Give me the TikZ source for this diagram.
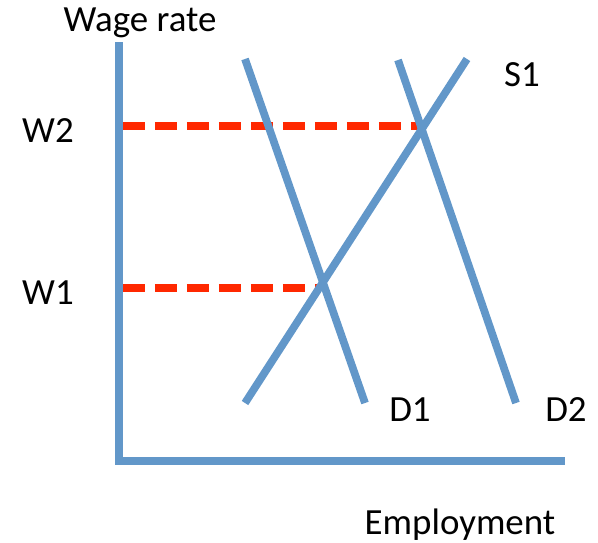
\documentclass[tikz,border=0pt]{standalone}
\usepackage{fontspec}
\setmainfont{Carlito}
\usepackage{tikz}
\usetikzlibrary{positioning}

\definecolor{curveblue}{RGB}{98,151,201}
\definecolor{levelred}{RGB}{255,40,0}

\begin{document}
\begin{tikzpicture}[
    x=0.02cm, y=-0.02cm,
    every node/.style={font=\fontsize{21}{24}\selectfont, inner sep=0pt},
    axisline/.style={draw=curveblue, line width=4.4pt},
    curve/.style={draw=curveblue, line width=4.4pt},
    level/.style={draw=levelred, line width=4.9pt, dash pattern=on 12.5pt off 5.7pt}
  ]
  \useasboundingbox (0,0) rectangle (598,542);

  % axes
  \coordinate (top) at (119,42);
  \coordinate (origin) at (119,461);
  \coordinate (right) at (565,461);
  \draw[axisline] (top) -- (origin) -- (right);

  % wage levels
  \coordinate (w2a) at (123,126); \coordinate (w2b) at (424,126);
  \coordinate (w1a) at (123,288); \coordinate (w1b) at (321,288);
  \draw[level] (w2a) -- (w2b);
  \draw[level] (w1a) -- (w1b);

  % demand and supply
  \coordinate (d1a) at (245,59);  \coordinate (d1b) at (365,403);
  \coordinate (d2a) at (398,60);  \coordinate (d2b) at (516,403);
  \coordinate (s1a) at (245,403); \coordinate (s1b) at (467,59);
  \draw[curve] (d1a) -- (d1b);
  \draw[curve] (d2a) -- (d2b);
  \draw[curve] (s1a) -- (s1b);

  % labels
  \node (ylab) at (140,23) {Wage rate};
  \node (xlab) at (460,525) {Employment};
  \node (w2) at (48,131) {W2};
  \node (w1) at (48,293) {W1};
  \node (s1) at (522,75) {S1};
  \node (d1) at (410,410) {D1};
  \node (d2) at (566,410) {D2};
\end{tikzpicture}
\end{document}
